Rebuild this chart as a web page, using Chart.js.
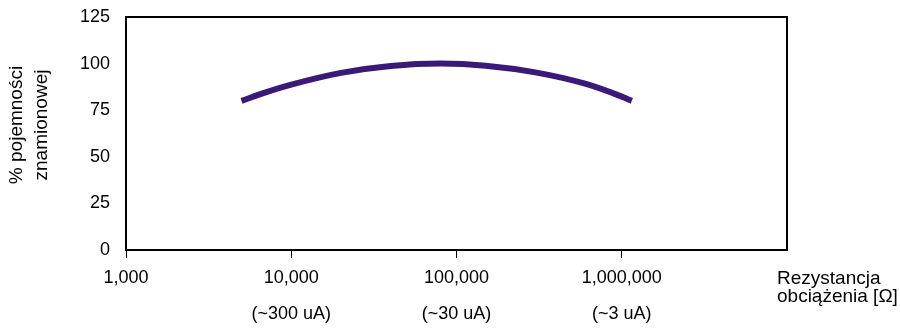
<!DOCTYPE html>
<html>
<head>
<meta charset="utf-8">
<script src="https://cdn.jsdelivr.net/npm/chart.js@4"></script>
<style>
  html, body { margin: 0; padding: 0; background: #fff; }
  #wrap { width: 900px; height: 330px; }
</style>
</head>
<body>
<div id="wrap"><canvas id="chart" width="900" height="330"></canvas></div>
<script>
// Dane
const resistance = [5000, 7000, 10000, 20000, 40000, 80000, 150000, 300000, 600000, 1000000, 1150000];
const capacity = [80, 84.6, 88.7, 95, 98.7, 100, 98.9, 95.3, 89.2, 82.3, 80];

const xTickValues = [1000, 10000, 100000, 1000000];
const xTickLabels = ['1,000', '10,000', '100,000', '1,000,000'];
const currentLabels = ['', '(~300 uA)', '(~30 uA)', '(~3 uA)'];
const yTickValues = [0, 25, 50, 75, 100, 125];

const yTitle = ['% pojemności', 'znamionowej'];
const xTitle = ['Rezystancja', 'obciążenia [Ω]'];

const FONT = 'Arial, "Liberation Sans", sans-serif';

// ramka + tytuły osi rysowane ręcznie
const extras = {
  id: 'extras',
  afterDraw(chart) {
    const { ctx, chartArea: a } = chart;
    ctx.save();
    ctx.strokeStyle = '#000';
    ctx.lineWidth = 2;
    ctx.strokeRect(a.left, a.top, a.right - a.left, a.bottom - a.top);

    ctx.fillStyle = '#000';
    ctx.font = '19px ' + FONT;
    ctx.textBaseline = 'alphabetic';
    ctx.textAlign = 'left';
    ctx.fillText(xTitle[0], 777, 284);
    ctx.fillText(xTitle[1], 777, 302);

    ctx.translate(0, 125);
    ctx.rotate(-Math.PI / 2);
    ctx.textAlign = 'center';
    ctx.fillText(yTitle[0], 0, 22);
    ctx.fillText(yTitle[1], 0, 47);
    ctx.restore();
  }
};

new Chart(document.getElementById('chart'), {
  type: 'line',
  data: {
    datasets: [{
      data: resistance.map((r, i) => ({ x: r, y: capacity[i] })),
      borderColor: '#3a1a78',
      borderWidth: 6,
      pointRadius: 0,
      cubicInterpolationMode: 'monotone',
      fill: false
    }]
  },
  options: {
    responsive: false,
    animation: false,
    layout: { padding: { left: 0, right: 113, top: 17, bottom: 0 } },
    plugins: { legend: { display: false }, tooltip: { enabled: false } },
    scales: {
      x: {
        type: 'logarithmic',
        min: 1000,
        max: 10000000,
        afterBuildTicks: s => { s.ticks = xTickValues.map(v => ({ value: v })); },
        afterFit: s => { s.height = 80; },
        grid: { display: true, drawOnChartArea: false, drawTicks: true, tickLength: 8, color: '#000', lineWidth: 1 },
        border: { display: true, color: '#000', width: 2 },
        ticks: {
          autoSkip: false,
          maxRotation: 0,
          padding: 2,
          color: '#000',
          font: { size: 18, family: FONT, lineHeight: 2.0 },
          callback: (v) => {
            const i = xTickValues.indexOf(v);
            if (i < 0) return '';
            return currentLabels[i] ? [xTickLabels[i], currentLabels[i]] : xTickLabels[i];
          }
        }
      },
      y: {
        min: 0,
        max: 125,
        afterBuildTicks: s => { s.ticks = yTickValues.map(v => ({ value: v })); },
        afterFit: s => { s.width = 126; },
        // niewidoczne kreski tylko po to, by odsunąć etykiety od osi
        grid: { display: true, drawOnChartArea: false, drawTicks: true, tickLength: 16, color: 'rgba(0,0,0,0)' },
        border: { display: true, color: '#000', width: 2 },
        ticks: {
          padding: 0,
          color: '#000',
          font: { size: 18, family: FONT }
        }
      }
    }
  },
  plugins: [extras]
});
</script>
</body>
</html>
